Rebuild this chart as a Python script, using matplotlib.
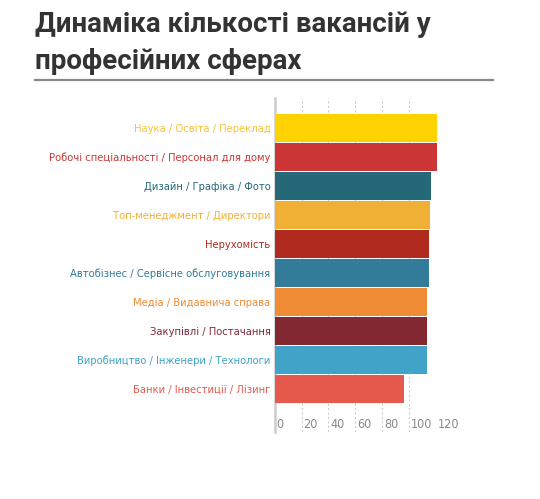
import matplotlib
matplotlib.use("Agg")
import matplotlib.pyplot as plt
import matplotlib.transforms as mtransforms
from matplotlib.lines import Line2D

# data
title_lines = ["Динаміка кількості вакансій у", "професійних сферах"]
categories = [
    "Наука / Освіта / Переклад",
    "Робочі спеціальності / Персонал для дому",
    "Дизайн / Графіка / Фото",
    "Топ-менеджмент / Директори",
    "Нерухомість",
    "Автобізнес / Сервісне обслуговування",
    "Медіа / Видавнича справа",
    "Закупівлі / Постачання",
    "Виробництво / Інженери / Технологи",
    "Банки / Інвестиції / Лізинг",
]
values = [120.7, 120.7, 116.7, 115.7, 114.7, 114.7, 113.7, 113.7, 113.7, 96.6]
colors = ["#FFD200", "#CC3535", "#256877", "#F0B036", "#B02A20",
          "#327C99", "#F08C36", "#822833", "#40A3C7", "#E65A4E"]
label_colors = ["#F5C33C", "#CC3535", "#256877", "#F0B036", "#B02A20",
                "#327C99", "#F08C36", "#822833", "#40A3C7", "#E65A4E"]
xticks = [0, 20, 40, 60, 80, 100, 120]

W, H = 540, 499
fig = plt.figure(figsize=(W / 100, H / 100), dpi=100)

# title, two lines, positioned by baseline
for line, base in zip(title_lines, [32, 69]):
    fig.text(35 / W, 1 - base / H, line, ha="left", va="baseline",
             fontsize=20, fontweight="bold", color="#333333", family="Roboto")
fig.add_artist(Line2D([35 / W, 493 / W], [1 - 79.5 / H, 1 - 79.5 / H],
                      color="#888888", lw=1.6, transform=fig.transFigure))

ax = fig.add_axes([274.7 / W, 1 - 432 / H, (435.7 - 274.7) / W, (432 - 97.7) / H])
ypos = list(range(len(values)))
ax.barh(ypos, values, height=0.96, color=colors, clip_on=False, zorder=3)

ax.set_xlim(0, 120)
ax.set_ylim(10.49, -1.04)
ax.set_xticks(xticks)
ax.set_xticklabels([str(t) for t in xticks])
ax.grid(axis="x", color="#cccccc", linestyle=(0, (2, 2)), lw=0.8, zorder=0)
ax.tick_params(axis="x", direction="in", length=0, pad=-10, labelsize=9,
               labelcolor="#888888")
offset = mtransforms.ScaledTranslation(2 / 100, 0, fig.dpi_scale_trans)
for lab in ax.get_xticklabels():
    lab.set_horizontalalignment("left")
    lab.set_transform(lab.get_transform() + offset)
    lab.set_family("DejaVu Sans")
    lab.set_stretch("condensed")

ax.set_yticks(ypos)
ax.set_yticklabels(categories, family="DejaVu Sans", stretch="condensed", fontsize=8)
ax.tick_params(axis="y", length=0, pad=3)
for lab, c in zip(ax.get_yticklabels(), label_colors):
    lab.set_color(c)

for s in ["top", "right", "bottom"]:
    ax.spines[s].set_visible(False)
ax.spines["left"].set_color("#cccccc")
ax.spines["left"].set_linewidth(1.8)

fig.savefig("out.png", dpi=100)
